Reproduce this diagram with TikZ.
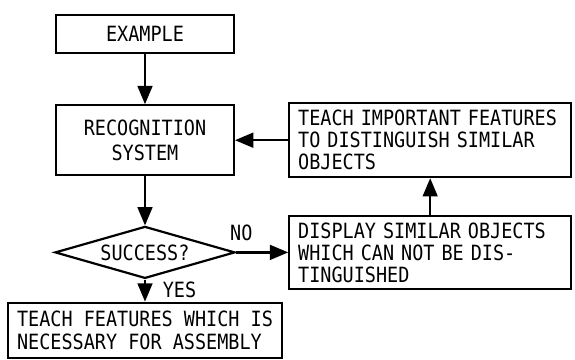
\documentclass[tikz,border=0pt]{standalone}
\usepackage{fontspec}
\setmonofont[FakeStretch=0.88]{DejaVu Sans Mono}
\usetikzlibrary{arrows,shapes.geometric,positioning}

\begin{document}
\begin{tikzpicture}[>=triangle 45, line width=1.1pt, auto,
		font=\ttfamily\fontsize{10.5}{11}\selectfont,
		block/.style={draw, rectangle, inner xsep=4.5pt},
		decision/.style={draw, diamond, aspect=3.4, inner sep=0pt, minimum width=90pt, minimum height=26pt}]
			\useasboundingbox (-72.5pt,17pt) rectangle (215pt,-163pt);
			\node[block, minimum width=89pt, minimum height=19pt] (example) at (0,0) {EXAMPLE};
			\node[block, minimum width=89pt, minimum height=35pt, align=center, font=\ttfamily\fontsize{10.5}{12.5}\selectfont] [below=25pt of example] (recog) {RECOGNITION\\SYSTEM};
			\node[decision] [below=24.5pt of recog] (success) {SUCCESS?};
			\node[block, minimum width=136pt, minimum height=27.5pt, align=left, font=\ttfamily\fontsize{10.5}{11.7}\selectfont] [below=11pt of success] (assembly) {TEACH FEATURES WHICH IS\\NECESSARY FOR ASSEMBLY};
			\node[block, text width=132pt, minimum height=37pt, align=left] [right=26.5pt of recog] (teach) {TEACH IMPORTANT FEATURES\\TO DISTINGUISH SIMILAR\\OBJECTS};
			\node[block, text width=132pt, minimum height=36.5pt, align=left] [right=26pt of success] (display) {DISPLAY SIMILAR OBJECTS\\WHICH CAN NOT BE DIS-\\TINGUISHED};
			\path[->]
				(example) edge (recog)
				(recog) edge (success)
				(success) edge node[right=5pt, pos=0.45] {YES} (assembly)
				(success) edge node[above=2pt, pos=0.1] {NO} (display)
				(display) edge (teach)
				(teach) edge (recog);
		\end{tikzpicture}
\end{document}
